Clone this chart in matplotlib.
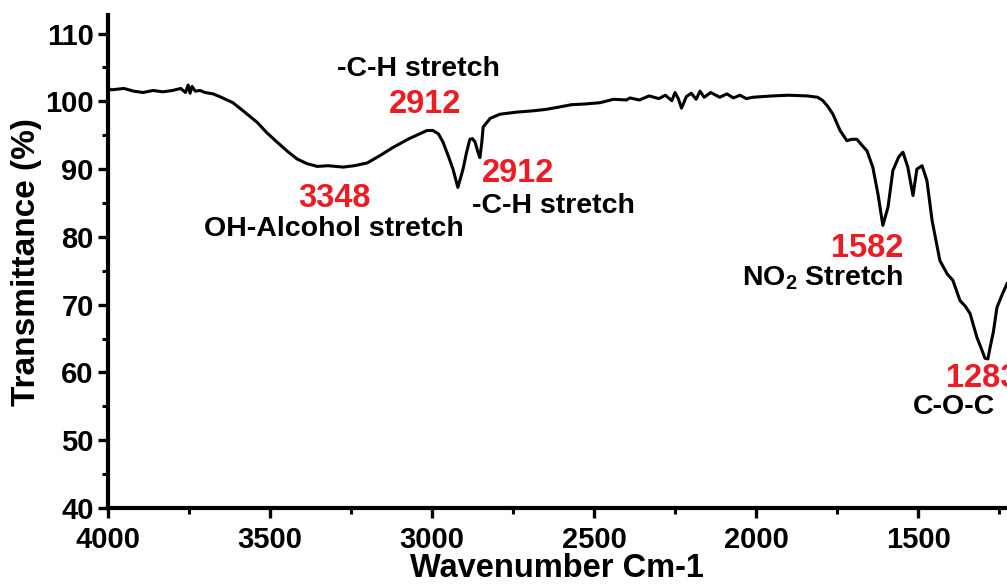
import matplotlib
matplotlib.use('Agg')
import matplotlib.pyplot as plt
from matplotlib.ticker import MultipleLocator

# FTIR spectrum
wavenumber = [
    4000, 3988, 3950, 3920, 3891, 3860, 3830, 3800, 3775, 3760,
    3752, 3746, 3740, 3730, 3715, 3700, 3675, 3650, 3614, 3580,
    3539, 3510, 3478, 3445, 3416, 3385, 3354, 3320, 3274, 3240,
    3200, 3160, 3120, 3070, 3015, 2997, 2980, 2966, 2950, 2935,
    2920, 2904, 2893, 2883, 2875, 2867, 2858, 2852, 2846, 2842,
    2820, 2790, 2740, 2688, 2650, 2614, 2570, 2530, 2481, 2440,
    2400, 2389, 2360, 2330, 2300, 2280, 2260, 2250, 2240, 2230,
    2215, 2200, 2185, 2173, 2160, 2140, 2112, 2090, 2070, 2050,
    2030, 2010, 1980, 1948, 1900, 1843, 1810, 1794, 1778, 1763,
    1741, 1720, 1705, 1689, 1675, 1658, 1640, 1624, 1609, 1593,
    1578, 1560, 1547, 1532, 1516, 1504, 1488, 1473, 1457, 1433,
    1410, 1393, 1371, 1355, 1340, 1319, 1305, 1294, 1285, 1279,
    1268, 1257, 1240, 1226,
]
transmittance = [
    101.9, 101.7, 101.9, 101.5, 101.3, 101.6, 101.4, 101.6, 101.9, 101.3,
    102.4, 101.2, 102.2, 101.5, 101.6, 101.3, 101.1, 100.6, 99.8, 98.5,
    96.9, 95.4, 94.0, 92.6, 91.5, 90.8, 90.4, 90.5, 90.3, 90.5,
    90.9, 92.0, 93.2, 94.5, 95.7, 95.7, 95.2, 94.0, 92.0, 90.0,
    87.3, 90.0, 92.5, 94.4, 94.5, 94.0, 92.5, 91.7, 94.0, 96.2,
    97.5, 98.1, 98.4, 98.6, 98.8, 99.1, 99.5, 99.6, 99.8, 100.3,
    100.2, 100.5, 100.2, 100.8, 100.4, 100.9, 100.1, 101.3, 100.4, 99.0,
    100.7, 101.2, 100.3, 101.5, 100.6, 101.3, 100.6, 101.1, 100.5, 100.9,
    100.4, 100.6, 100.7, 100.8, 100.9, 100.8, 100.6, 100.1, 99.2, 98.1,
    95.7, 94.2, 94.4, 94.4, 93.6, 92.7, 90.3, 86.3, 81.7, 84.4,
    89.8, 91.8, 92.5, 90.3, 86.1, 90.0, 90.5, 88.3, 82.4, 76.5,
    74.5, 73.6, 70.6, 69.8, 68.7, 65.2, 63.5, 62.1, 62.0, 63.5,
    66.0, 69.6, 71.6, 73.1,
]

# peak labels
peak_numbers = ['2912', '2912', '3348', '1582', '1283']
peak_names = ['-C-H stretch', '-C-H stretch', 'OH-Alcohol stretch', 'NO$_2$ Stretch', 'C-O-C']

plt.rcParams['font.family'] = ['Liberation Sans', 'DejaVu Sans']
plt.rcParams['font.weight'] = 'bold'
plt.rcParams['mathtext.fontset'] = 'custom'
plt.rcParams['mathtext.rm'] = 'Liberation Sans:bold'
plt.rcParams['mathtext.default'] = 'rm'

red = '#ec1c24'

fig = plt.figure(figsize=(10.07, 5.86), dpi=100)
ax = fig.add_axes([0.107, 0.133, 0.893, 0.841])

ax.plot(wavenumber, transmittance, color='black', linewidth=2.2,
        solid_joinstyle='round')

ax.set_xlim(4000, 1226)
ax.set_ylim(40, 112.7)
ax.xaxis.set_major_locator(MultipleLocator(500))
ax.xaxis.set_minor_locator(MultipleLocator(250))
ax.yaxis.set_major_locator(MultipleLocator(10))
ax.yaxis.set_minor_locator(MultipleLocator(5))

for side in ['top', 'right']:
    ax.spines[side].set_visible(False)
for side in ['left', 'bottom']:
    ax.spines[side].set_linewidth(3.0)

ax.tick_params(which='major', length=7, width=2.4, labelsize=21, pad=3)
ax.tick_params(which='minor', length=4.5, width=2.2)
ax.tick_params(axis='x', which='major', pad=6)
for lbl in ax.get_xticklabels() + ax.get_yticklabels():
    lbl.set_fontweight('bold')

ax.set_xlabel('Wavenumber Cm-1', fontsize=23.5, fontweight='bold', labelpad=-1)
ax.set_ylabel('Transmittance (%)', fontsize=24, fontweight='bold', labelpad=2)

# annotations
txt = dict(fontsize=20.5, fontweight='bold', color='black', clip_on=False)
num = dict(fontsize=23.5, fontweight='bold', color=red, clip_on=False)

ax.text(3043, 104.8, peak_names[0], ha='center', va='center', **txt)
ax.text(3021, 99.6, peak_numbers[0], ha='center', va='center', **num)

ax.text(2734, 89.3, peak_numbers[1], ha='center', va='center', **num)
ax.text(2626, 84.6, peak_names[1], ha='center', va='center', **txt)

ax.text(3302, 85.7, peak_numbers[2], ha='center', va='center', **num)
ax.text(3302, 81.2, peak_names[2], ha='center', va='center', **txt)

ax.text(1547, 78.3, peak_numbers[3], ha='right', va='center', **num)
ax.text(1547, 74.0, peak_names[3], ha='right', va='center', **txt)

# the reference picture cuts this label at its right edge
ax.text(1414, 59.1, peak_numbers[4], ha='left', va='center', **num)
ax.text(1516, 54.9, peak_names[4], ha='left', va='center', **txt)

plt.savefig('out.png', dpi=100)
